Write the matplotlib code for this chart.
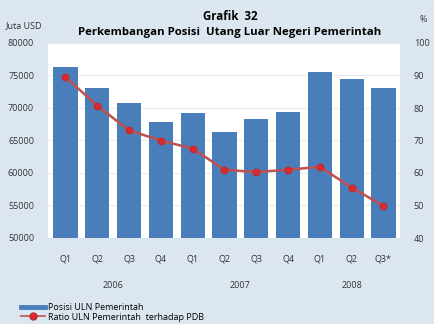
import matplotlib.pyplot as plt
from matplotlib.lines import Line2D

quarters = ['Q1', 'Q2', 'Q3', 'Q4', 'Q1', 'Q2', 'Q3', 'Q4', 'Q1', 'Q2', 'Q3*']
years = ['2006', '2007', '2008']
year_pos = [1.5, 5.5, 9.0]
posisi = [76300, 73000, 70800, 67800, 69200, 66300, 68300, 69400, 75500, 74500, 73000]
ratio = [89.5, 80.7, 73.1, 70.0, 67.5, 61.0, 60.3, 61.0, 61.9, 55.5, 49.9]

plt.rcParams['font.family'] = ['Open Sans', 'DejaVu Sans']
bg = '#dce6f1'
bar_col = '#4a7ebb'
line_col = '#c0504d'
txt = '#333333'

fig = plt.figure(figsize=(4.34, 3.24), dpi=100, facecolor=bg)
ax = fig.add_axes([48/434, 1 - 238/324, 352/434, 195/324])
ax.set_facecolor('white')

x = list(range(len(quarters)))
ax.bar(x, posisi, width=0.76, color=bar_col, zorder=2)
ax.set_ylim(50000, 80000)
ax.set_yticks(range(50000, 80001, 5000))
ax.set_xlim(-0.55, 10.52)
ax.set_xticks(x)
ax.set_xticklabels(quarters)
ax.grid(axis='y', color='#ececec', linewidth=0.8, zorder=0)
for s in ax.spines.values():
    s.set_visible(False)
ax.tick_params(length=0, labelsize=6.5, colors=txt)
ax.tick_params(axis='x', pad=12)
ax.tick_params(axis='y', pad=10)

ax2 = ax.twinx()
ax2.plot(x, ratio, color=line_col, linewidth=1.8, marker='o', markersize=5,
         markerfacecolor='#e0282c', markeredgecolor='#b03030', markeredgewidth=0.7, zorder=3)
ax2.set_ylim(40, 100)
ax2.set_yticks(range(40, 101, 10))
for s in ax2.spines.values():
    s.set_visible(False)
ax2.tick_params(length=0, labelsize=6.5, colors=txt, pad=10)

for yr, p in zip(years, year_pos):
    ax.text(p, -0.245, yr, transform=ax.get_xaxis_transform(), ha='center', va='center',
            fontsize=6.5, color=txt)

fig.text(230/434, 1 - 17/324, 'Grafik  32', ha='center', va='center', fontsize=8.3, fontweight='bold')
fig.text(230/434, 1 - 33/324, 'Perkembangan Posisi  Utang Luar Negeri Pemerintah', ha='center', va='center',
         fontsize=8.2, fontweight='bold')
fig.text(24/434, 1 - 26/324, 'Juta USD', ha='center', va='center', fontsize=6.5, color=txt)
fig.text(423/434, 1 - 19/324, '%', ha='center', va='center', fontsize=6.5, color=txt)

handles = [Line2D([0], [0], color=bar_col, linewidth=3.5),
           Line2D([0], [0], color=line_col, linewidth=1.2, marker='o', markersize=5,
                  markerfacecolor='#e0282c', markeredgecolor='#b03030')]
labels = ['Posisi ULN Pemerintah', 'Ratio ULN Pemerintah  terhadap PDB']
fig.legend(handles, labels, loc='lower left', bbox_to_anchor=(15/434, -0.012), frameon=False,
           fontsize=6.5, handlelength=2.6, handletextpad=0.35, labelspacing=0.05, borderpad=0.2)

fig.savefig('out.png', dpi=100, facecolor=bg)
